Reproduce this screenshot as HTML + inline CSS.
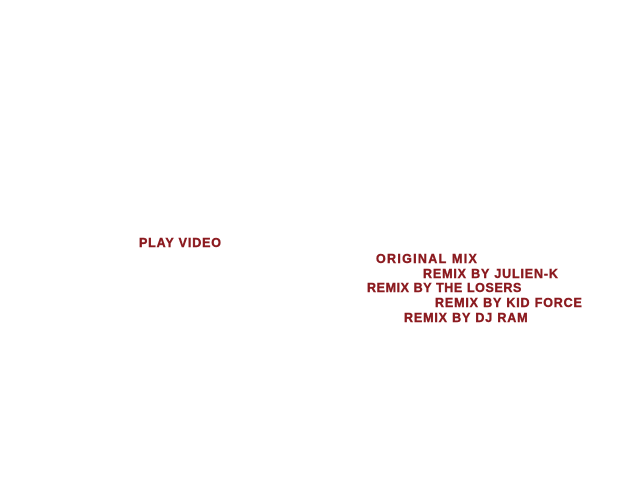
<!DOCTYPE html>
<html><head><style>
body{margin:0;width:640px;height:480px;background:#fff;position:relative;overflow:hidden}
div{position:absolute;font-family:"Liberation Sans",sans-serif;font-weight:bold;font-size:12.5px;line-height:13px;letter-spacing:0.85px;color:#8b1a1f;white-space:nowrap;-webkit-text-stroke:0.4px #8b1a1f}
</style></head><body>
<div style="left:139px;top:237px">PLAY VIDEO</div>
<div style="left:376px;top:253px;letter-spacing:1.3px">ORIGINAL MIX</div>
<div style="left:423px;top:268px">REMIX BY JULIEN-K</div>
<div style="left:367px;top:282px;letter-spacing:0.6px">REMIX BY THE LOSERS</div>
<div style="left:435px;top:297px">REMIX BY KID FORCE</div>
<div style="left:404px;top:312px">REMIX BY DJ RAM</div>
</body></html>
